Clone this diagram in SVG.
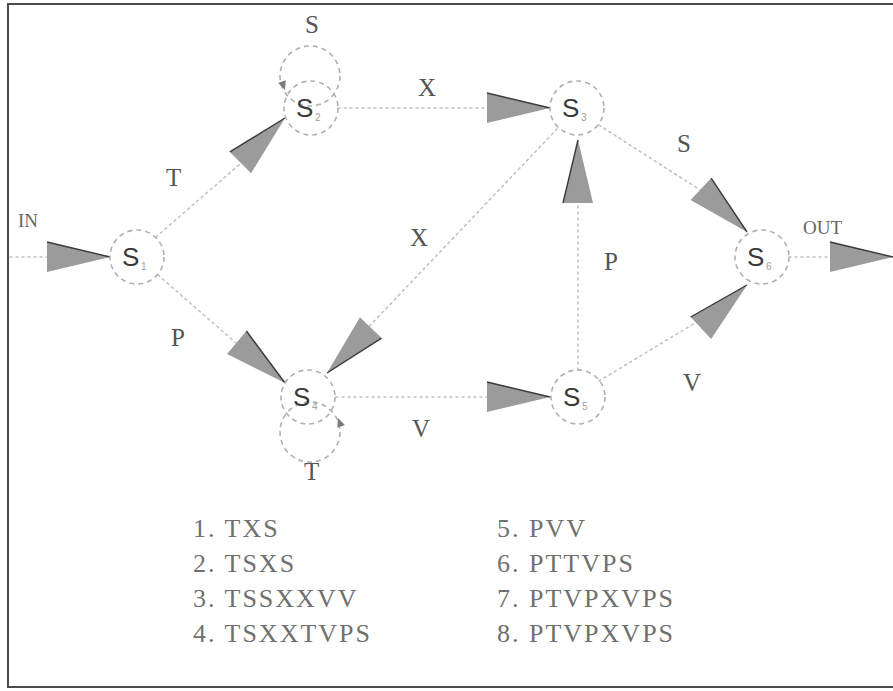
<svg xmlns="http://www.w3.org/2000/svg" width="893" height="691" viewBox="0 0 893 691">
  <style>
    .frame { fill: #ffffff; stroke: #4a4a4a; stroke-width: 2; }
    .edge { fill: none; stroke: #c2c2c2; stroke-width: 1.6; stroke-dasharray: 2 4; stroke-linecap: round; }
    .ring { fill: none; stroke: #b0b0b0; stroke-width: 1.6; stroke-dasharray: 5 4; }
    .head { fill: #9b9b9b; }
    .head-edge { fill: none; stroke: #3a3a3a; stroke-width: 1.4; }
    .small-head { fill: #7a7a7a; }
    .node-label { font-family: "Liberation Sans", Arial, sans-serif; font-size: 26px; fill: #3a3a3a; }
    .sub { font-family: "Liberation Sans", Arial, sans-serif; font-size: 10px; fill: #a0a0a0; }
    .edge-label { font-family: "Liberation Serif", "Times New Roman", serif; font-size: 25px; fill: #555555; }
    .io-label { font-family: "Liberation Serif", "Times New Roman", serif; font-size: 19px; fill: #666666; }
    .item { font-family: "Liberation Serif", "Times New Roman", serif; font-size: 26px; fill: #707070; letter-spacing: 2px; }
  </style>
  <defs>
    <!-- wide grey arrowhead, tip at the origin, pointing along +x -->
    <g id="arrow">
      <polygon class="head" points="-63,-15 0,0 -63,15"/>
      <line class="head-edge" x1="-63" y1="-15" x2="0" y2="0"/>
    </g>
    <!-- small head used on the self loops -->
    <polygon id="loop-arrow" class="small-head" points="-9,-4 0,0 -9,4"/>
  </defs>

  <rect class="frame" x="8" y="4" width="895" height="683"/>

  <!-- transitions -->
  <g id="connectors">
    <line class="edge" x1="10" y1="257" x2="48" y2="257"/>
    <line class="edge" x1="156" y1="237" x2="240" y2="164"/>
    <line class="edge" x1="158" y1="275" x2="236" y2="343"/>
    <line class="edge" x1="338" y1="108" x2="487" y2="108"/>
    <line class="edge" x1="557" y1="129" x2="360" y2="336"/>
    <line class="edge" x1="336" y1="397" x2="487" y2="397"/>
    <line class="edge" x1="578" y1="370" x2="578" y2="202"/>
    <line class="edge" x1="599" y1="125" x2="700" y2="190"/>
    <line class="edge" x1="599" y1="381" x2="700" y2="320"/>
    <line class="edge" x1="789" y1="257" x2="833" y2="257"/>
    <!-- self loops -->
    <circle class="ring" cx="310" cy="76" r="30"/>
    <circle class="ring" cx="310" cy="432" r="30"/>

    <use href="#arrow" transform="translate(110,257)"/>
    <use href="#arrow" transform="translate(285,118) rotate(-45)"/>
    <use href="#arrow" transform="translate(285,383) rotate(40)"/>
    <use href="#arrow" transform="translate(327,373) rotate(134)"/>
    <use href="#arrow" transform="translate(550,108)"/>
    <use href="#arrow" transform="translate(550,397)"/>
    <use href="#arrow" transform="translate(578,140) rotate(-90)"/>
    <use href="#arrow" transform="translate(747,232) rotate(43)"/>
    <use href="#arrow" transform="translate(747,285) rotate(-43)"/>
    <use href="#arrow" transform="translate(893,257)"/>
    <use href="#loop-arrow" transform="translate(285,90) rotate(70)"/>
    <use href="#loop-arrow" transform="translate(338,418) rotate(-110)"/>

    <text class="edge-label" x="305" y="33">S</text>
    <text class="edge-label" x="166" y="186">T</text>
    <text class="edge-label" x="418" y="96">X</text>
    <text class="edge-label" x="410" y="246">X</text>
    <text class="edge-label" x="171" y="346">P</text>
    <text class="edge-label" x="412" y="437">V</text>
    <text class="edge-label" x="304" y="480">T</text>
    <text class="edge-label" x="604" y="270">P</text>
    <text class="edge-label" x="677" y="152">S</text>
    <text class="edge-label" x="683" y="391">V</text>
    <text class="io-label" x="18" y="227">IN</text>
    <text class="io-label" x="803" y="234">OUT</text>
  </g>

  <!-- states -->
  <g id="s1">
    <circle class="ring" cx="137" cy="257" r="27"/>
    <text class="node-label" x="122" y="266">S</text><text class="sub" x="141" y="270">1</text>
  </g>
  <g id="s2">
    <circle class="ring" cx="311" cy="108" r="27"/>
    <text class="node-label" x="296" y="117">S</text><text class="sub" x="315" y="121">2</text>
  </g>
  <g id="s3">
    <circle class="ring" cx="577" cy="108" r="27"/>
    <text class="node-label" x="562" y="117">S</text><text class="sub" x="581" y="121">3</text>
  </g>
  <g id="s4">
    <circle class="ring" cx="308" cy="397" r="27"/>
    <text class="node-label" x="293" y="406">S</text><text class="sub" x="312" y="410">4</text>
  </g>
  <g id="s5">
    <circle class="ring" cx="578" cy="397" r="27"/>
    <text class="node-label" x="563" y="406">S</text><text class="sub" x="582" y="410">5</text>
  </g>
  <g id="s6">
    <circle class="ring" cx="762" cy="257" r="27"/>
    <text class="node-label" x="747" y="266">S</text><text class="sub" x="766" y="270">6</text>
  </g>

  <!-- example strings -->
  <g id="strings">
    <text class="item" x="193" y="537">1. TXS</text>
    <text class="item" x="193" y="572">2. TSXS</text>
    <text class="item" x="193" y="607">3. TSSXXVV</text>
    <text class="item" x="193" y="642">4. TSXXTVPS</text>
    <text class="item" x="497" y="537">5. PVV</text>
    <text class="item" x="497" y="572">6. PTTVPS</text>
    <text class="item" x="497" y="607">7. PTVPXVPS</text>
    <text class="item" x="497" y="642">8. PTVPXVPS</text>
  </g>
</svg>
